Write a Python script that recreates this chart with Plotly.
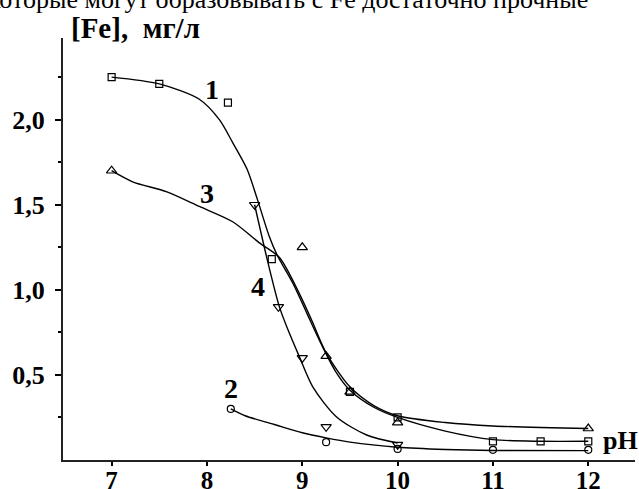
import plotly.graph_objects as go

# ---- data ----
# markers
s1_x = [7, 7.5, 8.22, 8.68, 9.5, 10, 11, 11.5, 12]
s1_y = [2.25, 2.21, 2.10, 1.18, 0.40, 0.25, 0.11, 0.11, 0.11]
s2_x = [8.25, 9.25, 10, 11, 12]
s2_y = [0.30, 0.105, 0.065, 0.06, 0.06]
s3_x = [7, 9, 9.25, 9.5, 10, 12]
s3_y = [1.70, 1.25, 0.61, 0.40, 0.22, 0.185]
s4_x = [8.5, 8.75, 9, 9.25, 10]
s4_y = [1.50, 0.90, 0.60, 0.195, 0.09]

# fitted curves
c1_x = [7, 7.5, 7.92, 8.13, 8.27, 8.42, 8.53, 8.65, 8.74, 8.9, 9.05, 9.2, 9.35, 9.5, 9.75, 10, 10.5, 11, 11.5, 12]
c1_y = [2.25, 2.21, 2.12, 2.0, 1.865, 1.71, 1.53, 1.32, 1.2, 1.04, 0.86, 0.68, 0.52, 0.41, 0.31, 0.25, 0.17, 0.12, 0.11, 0.11]
c2_x = [8.25, 8.4, 8.7, 9.0, 9.25, 9.5, 10, 10.5, 11, 12]
c2_y = [0.30, 0.26, 0.21, 0.16, 0.13, 0.105, 0.075, 0.062, 0.056, 0.055]
c3_x = [7, 7.22, 7.58, 7.92, 8.27, 8.55, 8.76, 8.95, 9.1, 9.25, 9.5, 9.75, 10, 10.5, 11, 12]
c3_y = [1.70, 1.635, 1.576, 1.49, 1.40, 1.276, 1.19, 1.0, 0.82, 0.63, 0.43, 0.32, 0.26, 0.22, 0.20, 0.185]
c4_x = [8.5, 8.64, 8.76, 8.85, 8.97, 9.11, 9.36, 9.675, 10]
c4_y = [1.50, 1.16, 0.90, 0.765, 0.606, 0.43, 0.253, 0.147, 0.10]

x_ticks = [7, 8, 9, 10, 11, 12]
y_ticks = [0.5, 1.0, 1.5, 2.0]
y_ticktext = ["0,5", "1,0", "1,5", "2,0"]
y_minor = [0.25, 0.75, 1.25, 1.75, 2.25]

curve_labels = ["1", "2", "3", "4"]
curve_label_x = [8.05, 8.25, 8.0, 8.54]
curve_label_y = [2.18, 0.42, 1.565, 1.02]

SERIF = "Liberation Serif, Times New Roman, serif"

fig = go.Figure()
for cx, cy in [(c1_x, c1_y), (c2_x, c2_y), (c3_x, c3_y), (c4_x, c4_y)]:
    fig.add_trace(go.Scatter(x=cx, y=cy, mode="lines",
                             line=dict(color="black", width=1.4, shape="spline", smoothing=0.8),
                             hoverinfo="skip", showlegend=False))

for mx, my, sym, sz in [(s1_x, s1_y, "square-open", 7),
                        (s2_x, s2_y, "circle-open", 7),
                        (s3_x, s3_y, "triangle-up-open", 9),
                        (s4_x, s4_y, "triangle-down-open", 9)]:
    fig.add_trace(go.Scatter(x=mx, y=my, mode="markers",
                             marker=dict(symbol=sym, size=sz, color="black",
                                         line=dict(color="black", width=1.2)),
                             showlegend=False))

for t, lx, ly in zip(curve_labels, curve_label_x, curve_label_y):
    fig.add_annotation(x=lx, y=ly, text=t, showarrow=False,
                       font=dict(family=SERIF, size=28, color="black", weight="bold"))

W, H = 639, 489
L, R, T, B = 63, 4, 38, 29
pw, ph = W - L - R, H - T - B

def px(xp):
    return (xp - L) / pw

def py(yp):
    return (H - B - yp) / ph

# axis title
fig.add_annotation(xref="paper", yref="paper", x=px(69), y=py(28), xanchor="left", yanchor="middle",
                   text="[Fe],  мг/л", showarrow=False,
                   font=dict(family=SERIF, size=29, color="black", weight="bold"))
fig.add_annotation(xref="paper", yref="paper", x=px(601), y=py(440), xanchor="left", yanchor="middle",
                   text="pH", showarrow=False,
                   font=dict(family=SERIF, size=26, color="black", weight="bold"))
# clipped line of page text above the chart
fig.add_annotation(xref="paper", yref="paper", x=px(-14), y=py(16), xanchor="left", yanchor="bottom",
                   text="которые могут образовывать с Fe достаточно прочные", showarrow=False,
                   font=dict(family=SERIF, size=26, color="black"))

fig.update_layout(
    width=W, height=H,
    margin=dict(l=L, r=R, t=T, b=B, pad=0, autoexpand=False),
    plot_bgcolor="white", paper_bgcolor="white",
    xaxis=dict(range=[6.49, 12.49], tickmode="array", tickvals=x_ticks,
               ticks="outside", ticklen=4, tickwidth=1.5, tickcolor="black",
               ticklabelstandoff=-7,
               showline=True, linecolor="#222", linewidth=2,
               showgrid=False, zeroline=False, automargin=False,
               tickfont=dict(family=SERIF, size=25, color="black", weight="bold")),
    yaxis=dict(range=[0, 2.48], tickmode="array", tickvals=y_ticks, ticktext=y_ticktext,
               ticks="outside", ticklen=6, tickwidth=1.5, tickcolor="black",
               ticklabelstandoff=5,
               minor=dict(tickmode="array", tickvals=y_minor, ticks="outside", ticklen=3,
                          tickwidth=1.5, tickcolor="black"),
               showline=True, linecolor="#222", linewidth=2,
               showgrid=False, zeroline=False, automargin=False,
               tickfont=dict(family=SERIF, size=26, color="black", weight="bold")),
)

fig.write_html("out.html", config={"displayModeBar": False},
               post_script="document.body.style.margin='0';document.body.style.overflow='hidden';")
